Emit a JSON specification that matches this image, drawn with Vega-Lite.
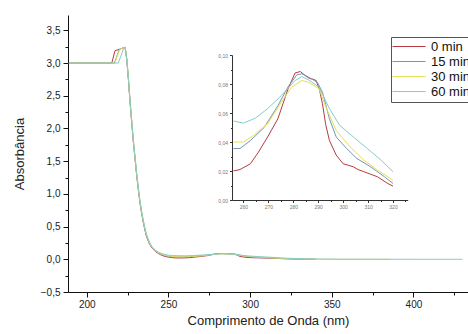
{
  "$schema": "https://vega.github.io/schema/vega-lite/v6.json",
  "autosize": "none",
  "padding": {"left": 68, "top": 15, "right": 0, "bottom": 42},
  "width": 400,
  "height": 277,
  "background": "white",
  "config": {
    "view": {"stroke": null},
    "font": "Liberation Sans",
    "axis": {"grid": false, "domainColor": "#111", "tickColor": "#111", "labelColor": "#222", "labelFont": "Liberation Sans", "titleFont": "Liberation Sans", "titleFontWeight": "normal", "titleColor": "#222"}
  },
  "datasets": {
    "spectra": [
      {"t": "0 min", "nm": 189, "a": 3.0}, {"t": "0 min", "nm": 215.3, "a": 3.0}, {"t": "0 min", "nm": 217.3, "a": 3.19}, {"t": "0 min", "nm": 220, "a": 3.21}, {"t": "0 min", "nm": 222, "a": 3.23},
      {"t": "0 min", "nm": 223.5, "a": 3.24}, {"t": "0 min", "nm": 224.5, "a": 3.05}, {"t": "0 min", "nm": 225.5, "a": 2.75}, {"t": "0 min", "nm": 226.5, "a": 2.4}, {"t": "0 min", "nm": 227.5, "a": 2.1}, {"t": "0 min", "nm": 228.5, "a": 1.8}, {"t": "0 min", "nm": 229.5, "a": 1.55}, {"t": "0 min", "nm": 230.5, "a": 1.3}, {"t": "0 min", "nm": 231.5, "a": 1.08}, {"t": "0 min", "nm": 232.5, "a": 0.88}, {"t": "0 min", "nm": 233.5, "a": 0.72}, {"t": "0 min", "nm": 234.5, "a": 0.58}, {"t": "0 min", "nm": 235.5, "a": 0.46}, {"t": "0 min", "nm": 236.5, "a": 0.36}, {"t": "0 min", "nm": 237.5, "a": 0.29}, {"t": "0 min", "nm": 238.5, "a": 0.23}, {"t": "0 min", "nm": 240, "a": 0.17}, {"t": "0 min", "nm": 242, "a": 0.12}, {"t": "0 min", "nm": 244, "a": 0.085},
      {"t": "0 min", "nm": 246, "a": 0.06}, {"t": "0 min", "nm": 248, "a": 0.043}, {"t": "0 min", "nm": 250, "a": 0.033}, {"t": "0 min", "nm": 252, "a": 0.026}, {"t": "0 min", "nm": 254, "a": 0.022},
      {"t": "0 min", "nm": 256, "a": 0.0201}, {"t": "0 min", "nm": 258.6, "a": 0.021}, {"t": "0 min", "nm": 262.8, "a": 0.025}, {"t": "0 min", "nm": 266, "a": 0.033}, {"t": "0 min", "nm": 269.7, "a": 0.0435}, {"t": "0 min", "nm": 273.8, "a": 0.056}, {"t": "0 min", "nm": 277.9, "a": 0.0767}, {"t": "0 min", "nm": 280.7, "a": 0.0876}, {"t": "0 min", "nm": 282.8, "a": 0.0886}, {"t": "0 min", "nm": 284.8, "a": 0.0858}, {"t": "0 min", "nm": 286.5, "a": 0.0838}, {"t": "0 min", "nm": 287.6, "a": 0.0835}, {"t": "0 min", "nm": 289.2, "a": 0.0824}, {"t": "0 min", "nm": 290.5, "a": 0.076}, {"t": "0 min", "nm": 291.7, "a": 0.0664}, {"t": "0 min", "nm": 293, "a": 0.052}, {"t": "0 min", "nm": 294.5, "a": 0.041}, {"t": "0 min", "nm": 297.2, "a": 0.031}, {"t": "0 min", "nm": 300, "a": 0.025}, {"t": "0 min", "nm": 302, "a": 0.024}, {"t": "0 min", "nm": 304.1, "a": 0.0229}, {"t": "0 min", "nm": 306, "a": 0.021}, {"t": "0 min", "nm": 308.3, "a": 0.0195}, {"t": "0 min", "nm": 311, "a": 0.0178}, {"t": "0 min", "nm": 313.8, "a": 0.016}, {"t": "0 min", "nm": 316, "a": 0.0135}, {"t": "0 min", "nm": 317.9, "a": 0.0114}, {"t": "0 min", "nm": 320, "a": 0.0096},
      {"t": "0 min", "nm": 325, "a": 0.006}, {"t": "0 min", "nm": 330, "a": 0.003}, {"t": "0 min", "nm": 335, "a": 0.001}, {"t": "0 min", "nm": 340, "a": 0.0},

      {"t": "15 min", "nm": 189, "a": 3.0}, {"t": "15 min", "nm": 216.9, "a": 3.0}, {"t": "15 min", "nm": 219.9, "a": 3.21}, {"t": "15 min", "nm": 222, "a": 3.23},
      {"t": "15 min", "nm": 223.5, "a": 3.24}, {"t": "15 min", "nm": 224.5, "a": 3.05}, {"t": "15 min", "nm": 225.5, "a": 2.75}, {"t": "15 min", "nm": 226.5, "a": 2.4}, {"t": "15 min", "nm": 227.5, "a": 2.1}, {"t": "15 min", "nm": 228.5, "a": 1.8}, {"t": "15 min", "nm": 229.5, "a": 1.55}, {"t": "15 min", "nm": 230.5, "a": 1.3}, {"t": "15 min", "nm": 231.5, "a": 1.08}, {"t": "15 min", "nm": 232.5, "a": 0.88}, {"t": "15 min", "nm": 233.5, "a": 0.72}, {"t": "15 min", "nm": 234.5, "a": 0.58}, {"t": "15 min", "nm": 235.5, "a": 0.46}, {"t": "15 min", "nm": 236.5, "a": 0.36}, {"t": "15 min", "nm": 237.5, "a": 0.29}, {"t": "15 min", "nm": 238.5, "a": 0.23}, {"t": "15 min", "nm": 240, "a": 0.175}, {"t": "15 min", "nm": 242, "a": 0.128}, {"t": "15 min", "nm": 244, "a": 0.094},
      {"t": "15 min", "nm": 246, "a": 0.07}, {"t": "15 min", "nm": 248, "a": 0.055}, {"t": "15 min", "nm": 250, "a": 0.046}, {"t": "15 min", "nm": 252, "a": 0.04}, {"t": "15 min", "nm": 254, "a": 0.037},
      {"t": "15 min", "nm": 256, "a": 0.0355}, {"t": "15 min", "nm": 258.6, "a": 0.0355}, {"t": "15 min", "nm": 262.8, "a": 0.041}, {"t": "15 min", "nm": 268.3, "a": 0.05}, {"t": "15 min", "nm": 273.8, "a": 0.065}, {"t": "15 min", "nm": 277.9, "a": 0.078}, {"t": "15 min", "nm": 281.4, "a": 0.0863}, {"t": "15 min", "nm": 283.4, "a": 0.087}, {"t": "15 min", "nm": 286.2, "a": 0.0847}, {"t": "15 min", "nm": 289.7, "a": 0.081}, {"t": "15 min", "nm": 291.7, "a": 0.0744}, {"t": "15 min", "nm": 294.5, "a": 0.056}, {"t": "15 min", "nm": 297.2, "a": 0.0435}, {"t": "15 min", "nm": 301.4, "a": 0.0355}, {"t": "15 min", "nm": 305.5, "a": 0.0286}, {"t": "15 min", "nm": 311, "a": 0.0229}, {"t": "15 min", "nm": 316.6, "a": 0.016}, {"t": "15 min", "nm": 320, "a": 0.0114},
      {"t": "15 min", "nm": 325, "a": 0.008}, {"t": "15 min", "nm": 330, "a": 0.004}, {"t": "15 min", "nm": 335, "a": 0.002}, {"t": "15 min", "nm": 340, "a": 0.001},

      {"t": "30 min", "nm": 189, "a": 3.0}, {"t": "30 min", "nm": 217.2, "a": 3.0}, {"t": "30 min", "nm": 220.2, "a": 3.21}, {"t": "30 min", "nm": 222, "a": 3.23},
      {"t": "30 min", "nm": 223.5, "a": 3.24}, {"t": "30 min", "nm": 224.5, "a": 3.06}, {"t": "30 min", "nm": 225.5, "a": 2.77}, {"t": "30 min", "nm": 226.5, "a": 2.42}, {"t": "30 min", "nm": 227.5, "a": 2.12}, {"t": "30 min", "nm": 228.5, "a": 1.82}, {"t": "30 min", "nm": 229.5, "a": 1.57}, {"t": "30 min", "nm": 230.5, "a": 1.32}, {"t": "30 min", "nm": 231.5, "a": 1.1}, {"t": "30 min", "nm": 232.5, "a": 0.9}, {"t": "30 min", "nm": 233.5, "a": 0.74}, {"t": "30 min", "nm": 234.5, "a": 0.6}, {"t": "30 min", "nm": 235.5, "a": 0.48}, {"t": "30 min", "nm": 236.5, "a": 0.38}, {"t": "30 min", "nm": 237.5, "a": 0.31}, {"t": "30 min", "nm": 238.5, "a": 0.245}, {"t": "30 min", "nm": 240, "a": 0.18}, {"t": "30 min", "nm": 242, "a": 0.132}, {"t": "30 min", "nm": 244, "a": 0.098},
      {"t": "30 min", "nm": 246, "a": 0.075}, {"t": "30 min", "nm": 248, "a": 0.06}, {"t": "30 min", "nm": 250, "a": 0.051}, {"t": "30 min", "nm": 252, "a": 0.045}, {"t": "30 min", "nm": 254, "a": 0.041},
      {"t": "30 min", "nm": 256, "a": 0.04}, {"t": "30 min", "nm": 260, "a": 0.04}, {"t": "30 min", "nm": 264.1, "a": 0.0446}, {"t": "30 min", "nm": 269.7, "a": 0.0526}, {"t": "30 min", "nm": 275.2, "a": 0.0675}, {"t": "30 min", "nm": 279.3, "a": 0.0778}, {"t": "30 min", "nm": 283.4, "a": 0.0824}, {"t": "30 min", "nm": 286.2, "a": 0.0812}, {"t": "30 min", "nm": 290.3, "a": 0.0767}, {"t": "30 min", "nm": 293.1, "a": 0.064}, {"t": "30 min", "nm": 297.2, "a": 0.048}, {"t": "30 min", "nm": 302.8, "a": 0.0366}, {"t": "30 min", "nm": 308.3, "a": 0.0275}, {"t": "30 min", "nm": 313.8, "a": 0.0206}, {"t": "30 min", "nm": 320, "a": 0.0137},
      {"t": "30 min", "nm": 325, "a": 0.009}, {"t": "30 min", "nm": 330, "a": 0.005}, {"t": "30 min", "nm": 340, "a": 0.002}, {"t": "30 min", "nm": 350, "a": 0.001}, {"t": "30 min", "nm": 370, "a": 0.0}, {"t": "30 min", "nm": 386, "a": 0.0},

      {"t": "60 min", "nm": 189, "a": 3.0}, {"t": "60 min", "nm": 219.3, "a": 3.0}, {"t": "60 min", "nm": 222.8, "a": 3.24},
      {"t": "60 min", "nm": 223.5, "a": 3.24}, {"t": "60 min", "nm": 224.5, "a": 3.06}, {"t": "60 min", "nm": 225.5, "a": 2.77}, {"t": "60 min", "nm": 226.5, "a": 2.43}, {"t": "60 min", "nm": 227.5, "a": 2.13}, {"t": "60 min", "nm": 228.5, "a": 1.83}, {"t": "60 min", "nm": 229.5, "a": 1.58}, {"t": "60 min", "nm": 230.5, "a": 1.33}, {"t": "60 min", "nm": 231.5, "a": 1.11}, {"t": "60 min", "nm": 232.5, "a": 0.91}, {"t": "60 min", "nm": 233.5, "a": 0.75}, {"t": "60 min", "nm": 234.5, "a": 0.61}, {"t": "60 min", "nm": 235.5, "a": 0.49}, {"t": "60 min", "nm": 236.5, "a": 0.39}, {"t": "60 min", "nm": 237.5, "a": 0.32}, {"t": "60 min", "nm": 238.5, "a": 0.255}, {"t": "60 min", "nm": 240, "a": 0.19}, {"t": "60 min", "nm": 242, "a": 0.14}, {"t": "60 min", "nm": 244, "a": 0.108},
      {"t": "60 min", "nm": 246, "a": 0.087}, {"t": "60 min", "nm": 248, "a": 0.073}, {"t": "60 min", "nm": 250, "a": 0.064}, {"t": "60 min", "nm": 252, "a": 0.058}, {"t": "60 min", "nm": 254, "a": 0.056},
      {"t": "60 min", "nm": 256, "a": 0.0545}, {"t": "60 min", "nm": 260, "a": 0.053}, {"t": "60 min", "nm": 264.8, "a": 0.0565}, {"t": "60 min", "nm": 269.7, "a": 0.063}, {"t": "60 min", "nm": 275.2, "a": 0.072}, {"t": "60 min", "nm": 280.7, "a": 0.0824}, {"t": "60 min", "nm": 283.4, "a": 0.0851}, {"t": "60 min", "nm": 286.2, "a": 0.0828}, {"t": "60 min", "nm": 290.3, "a": 0.0778}, {"t": "60 min", "nm": 294.5, "a": 0.063}, {"t": "60 min", "nm": 298.6, "a": 0.0515}, {"t": "60 min", "nm": 304.1, "a": 0.0435}, {"t": "60 min", "nm": 309.7, "a": 0.0355}, {"t": "60 min", "nm": 315.2, "a": 0.0275}, {"t": "60 min", "nm": 320, "a": 0.0195},
      {"t": "60 min", "nm": 325, "a": 0.014}, {"t": "60 min", "nm": 330, "a": 0.009}, {"t": "60 min", "nm": 340, "a": 0.004}, {"t": "60 min", "nm": 350, "a": 0.002}, {"t": "60 min", "nm": 370, "a": 0.001}, {"t": "60 min", "nm": 400, "a": 0.0}, {"t": "60 min", "nm": 430, "a": 0.0}
    ]
  },
  "data": {"name": "spectra"},
  "layer": [
    {
      "mark": {"type": "line", "strokeWidth": 1, "interpolate": "linear"},
      "encoding": {
        "x": {
          "field": "nm", "type": "quantitative",
          "scale": {"domain": [188.5, 433.4], "nice": false, "zero": false},
          "axis": {
            "orient": "bottom",
            "title": "Comprimento de Onda (nm)",
            "titleFontSize": 13, "titlePadding": 5,
            "values": [200, 225, 250, 275, 300, 325, 350, 375, 400, 425],
            "labelExpr": "datum.value % 50 === 0 ? datum.label : ''",
            "labelFontSize": 10, "labelPadding": 2,
            "tickSize": {"condition": {"test": "datum.value % 50 === 0", "value": 5}, "value": 3}
          }
        },
        "y": {
          "field": "a", "type": "quantitative",
          "scale": {"domain": [-0.5, 3.735], "nice": false, "zero": false},
          "axis": {
            "orient": "left",
            "title": "Absorbância",
            "titleFontSize": 13, "titlePadding": 14,
            "values": [-0.5, -0.25, 0, 0.25, 0.5, 0.75, 1, 1.25, 1.5, 1.75, 2, 2.25, 2.5, 2.75, 3, 3.25, 3.5],
            "labelExpr": "abs(datum.value * 2 - round(datum.value * 2)) < 0.001 ? replace(format(datum.value, '.1f'), '.', ',') : ''",
            "labelFontSize": 10, "labelPadding": 3,
            "tickSize": {"condition": {"test": "abs(datum.value * 2 - round(datum.value * 2)) < 0.001", "value": 5}, "value": 3}
          }
        },
        "color": {
          "field": "t", "type": "nominal",
          "scale": {"domain": ["0 min", "15 min", "30 min", "60 min"], "range": ["#b83a3e", "#7596b6", "#e6df55", "#86cccb"]},
          "legend": {
            "orient": "none", "legendX": 323, "legendY": 22,
            "title": null, "symbolType": "M-1.6,0H5.0", "symbolSize": 100, "symbolStrokeWidth": 1,
            "labelFontSize": 13, "labelColor": "#111", "labelOffset": 24,
            "strokeColor": "#555", "fillColor": "white", "padding": 3, "rowPadding": 1
          }
        },
        "detail": {"field": "t"}
      }
    },
    {
      "transform": [{"filter": "datum.nm >= 255.5 && datum.nm <= 320.5"}],
      "mark": {"type": "line", "strokeWidth": 1},
      "encoding": {
        "x": {
          "field": "nm", "type": "quantitative",
          "scale": {"domain": [255.4, 325.9], "range": [164, 339.7], "nice": false, "zero": false},
          "axis": {
            "orient": "bottom", "offset": -92, "title": null,
            "values": [260, 265, 270, 275, 280, 285, 290, 295, 300, 305, 310, 315, 320, 325],
            "labelExpr": "datum.value % 10 === 0 ? datum.label : ''",
            "labelFontSize": 5, "labelColor": "#777", "labelPadding": 2,
            "domainColor": "#333", "tickColor": "#333",
            "tickSize": {"condition": {"test": "datum.value % 10 === 0", "value": 2.5}, "value": 1.5}
          }
        },
        "y": {
          "field": "a", "type": "quantitative",
          "scale": {"domain": [0, 0.1], "range": [185, 40], "nice": false, "zero": false},
          "axis": {
            "orient": "left", "offset": -164, "title": null,
            "values": [0, 0.01, 0.02, 0.03, 0.04, 0.05, 0.06, 0.07, 0.08, 0.09, 0.1],
            "labelExpr": "round(datum.value * 100) % 2 === 0 ? replace(format(datum.value, '.2f'), '.', ',') : ''",
            "labelFontSize": 5, "labelColor": "#777", "labelPadding": 2,
            "domainColor": "#333", "tickColor": "#333",
            "tickSize": {"condition": {"test": "round(datum.value * 100) % 2 === 0", "value": 2.5}, "value": 1.5}
          }
        },
        "color": {"field": "t", "type": "nominal"},
        "detail": {"field": "t"}
      }
    }
  ],
  "resolve": {"scale": {"x": "independent", "y": "independent"}, "axis": {"x": "independent", "y": "independent"}}
}
